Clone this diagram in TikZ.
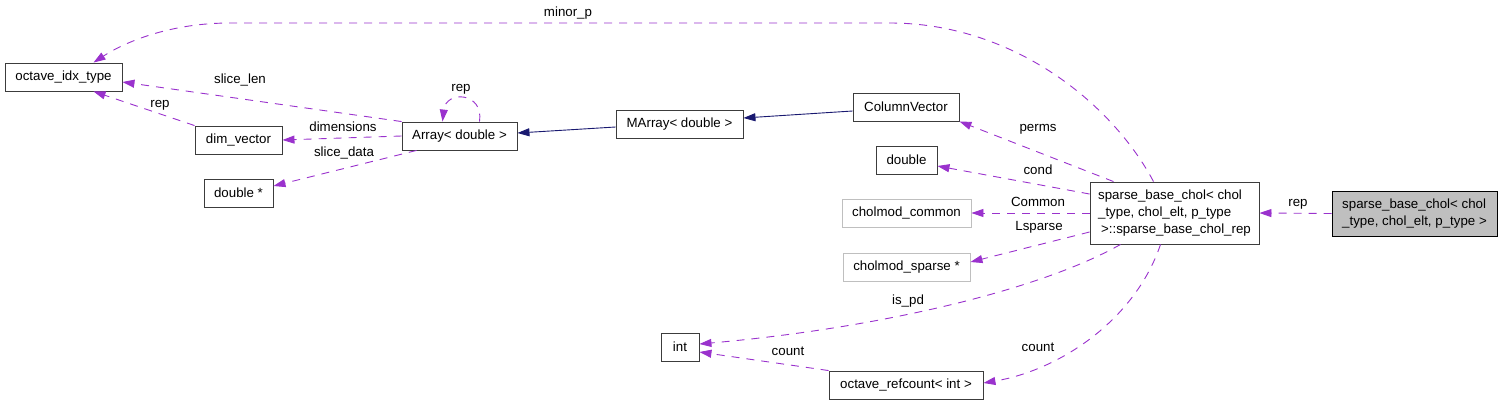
\documentclass[tikz,border=0pt]{standalone}
\usepackage{fontspec}
\setmainfont{Liberation Sans}
\usetikzlibrary{arrows.meta}
\definecolor{memcol}{RGB}{154,50,205}
\definecolor{inhcol}{RGB}{25,25,112}
\definecolor{boxline}{RGB}{60,60,60}
\definecolor{undoc}{RGB}{191,191,191}
\tikzset{
  cls/.style={draw=boxline, line width=0.9pt, fill=white, minimum height=28pt,
    inner sep=0pt, font=\fontsize{13.3}{17}\selectfont},
  extcls/.style={cls, draw=undoc},
  usage/.style={draw=memcol, line width=0.9pt, dash pattern=on 8pt off 7pt,
    -{Triangle[length=12pt,width=8pt]}},
  inherit/.style={draw=inhcol, line width=0.9pt, -{Triangle[length=12pt,width=8pt]}},
  lbl/.style={font=\fontsize{13.3}{16}\selectfont, inner sep=0pt,
    text height=9.5pt, text depth=2.8pt}
}

\begin{document}
\begin{tikzpicture}[x=1pt,y=-1pt]
  \useasboundingbox (0,0) rectangle (1509,405);
  % classes
  \node[cls, minimum width=117pt] (idx) at (63.5,77) {octave\_idx\_type};
  \node[cls, minimum width=87pt] (dim) at (238.5,140) {dim\_vector};
  \node[cls, minimum width=115pt] (arr) at (459.5,136) {Array< double >};
  \node[cls, minimum width=69pt] (dptr) at (238.5,193) {double *};
  \node[cls, minimum width=127pt] (marr) at (679.5,124) {MArray< double >};
  \node[cls, minimum width=106pt] (colvec) at (906,107) {ColumnVector};
  \node[cls, minimum width=61pt] (dbl) at (906.5,160) {double};
  \node[extcls, minimum width=129pt] (common) at (906.5,213) {cholmod\_common};
  \node[extcls, minimum width=127pt] (sparse) at (906.5,267) {cholmod\_sparse *};
  \node[cls, minimum width=38pt] (int) at (680,347) {int};
  \node[cls, minimum width=154pt] (refc) at (906,385) {octave\_refcount< int >};
  \node[cls, minimum width=169pt, minimum height=62pt, align=left] (rep) at (1174.5,213)
    {sparse\_base\_chol< chol\\\_type, chol\_elt, p\_type\\\hspace{3pt}>::sparse\_base\_chol\_rep};
  \node[cls, draw=black, fill=undoc, minimum width=165pt, minimum height=45pt, align=left] (chol)
    at (1414.5,213.5) {sparse\_base\_chol< chol\\\_type, chol\_elt, p\_type >};

  % inheritance
  \draw[inherit] ([yshift=-3pt]marr.west) -- ([yshift=3pt]arr.east);
  \draw[inherit] ([yshift=-4pt]colvec.west) -- ([yshift=6pt]marr.east);

  % members
  \draw[usage] ([xshift=-21pt]rep.north) .. controls (1110,100) and (1010,23) .. (890,23)
    -- (230,23) .. controls (170,23) and (125,42) .. ([xshift=30pt]idx.north);
  \draw[usage] (arr.north west) -- ([yshift=-5pt]idx.east);
  \draw[usage] (dim.north west) -- ([xshift=30pt]idx.south);
  \draw[usage] ([xshift=20pt]arr.north) .. controls (484,92) and (446,90) .. ([xshift=-17pt]arr.north);
  \draw[usage] (arr.west) -- (dim.east);
  \draw[usage] ([xshift=15pt]arr.south west) -- ([yshift=7pt]dptr.east);
  \draw[usage] ([xshift=-61pt]rep.north) -- (colvec.south east);
  \draw[usage] ([yshift=19pt]rep.west) -- ([yshift=-6pt]dbl.east);
  \draw[usage] (rep.west) -- (common.east);
  \draw[usage] ([yshift=-19pt]rep.west) -- ([yshift=5pt]sparse.east);
  \draw[usage] ([xshift=-54pt]rep.south) .. controls (1040,290) and (880,328) .. ([yshift=3pt]int.east);
  \draw[usage] (refc.north west) -- ([yshift=-5pt]int.east);
  \draw[usage] ([xshift=-14pt]rep.south) .. controls (1135,320) and (1060,370) .. ([yshift=2pt]refc.east);
  \draw[usage] (chol.west) -- (rep.east);

  % edge labels
  \foreach \nm/\xy/\txt in {lminor/{(568,13)}/minor\_p, lslen/{(240,80)}/slice\_len,
      lrepa/{(160,104)}/rep, lrepb/{(461,88)}/rep, ldims/{(343,128)}/dimensions,
      lsdata/{(344,153)}/slice\_data, lperms/{(1038,128)}/perms, lcond/{(1038,171)}/cond,
      lcommon/{(1038,203)}/Common, llsp/{(1039,227)}/Lsparse, lispd/{(908,301)}/is\_pd,
      lcnta/{(788,352)}/count, lcntb/{(1038,348)}/count, lrepc/{(1298,203)}/rep}
    \node[lbl] (\nm) at \xy {\txt};
\end{tikzpicture}
\end{document}
